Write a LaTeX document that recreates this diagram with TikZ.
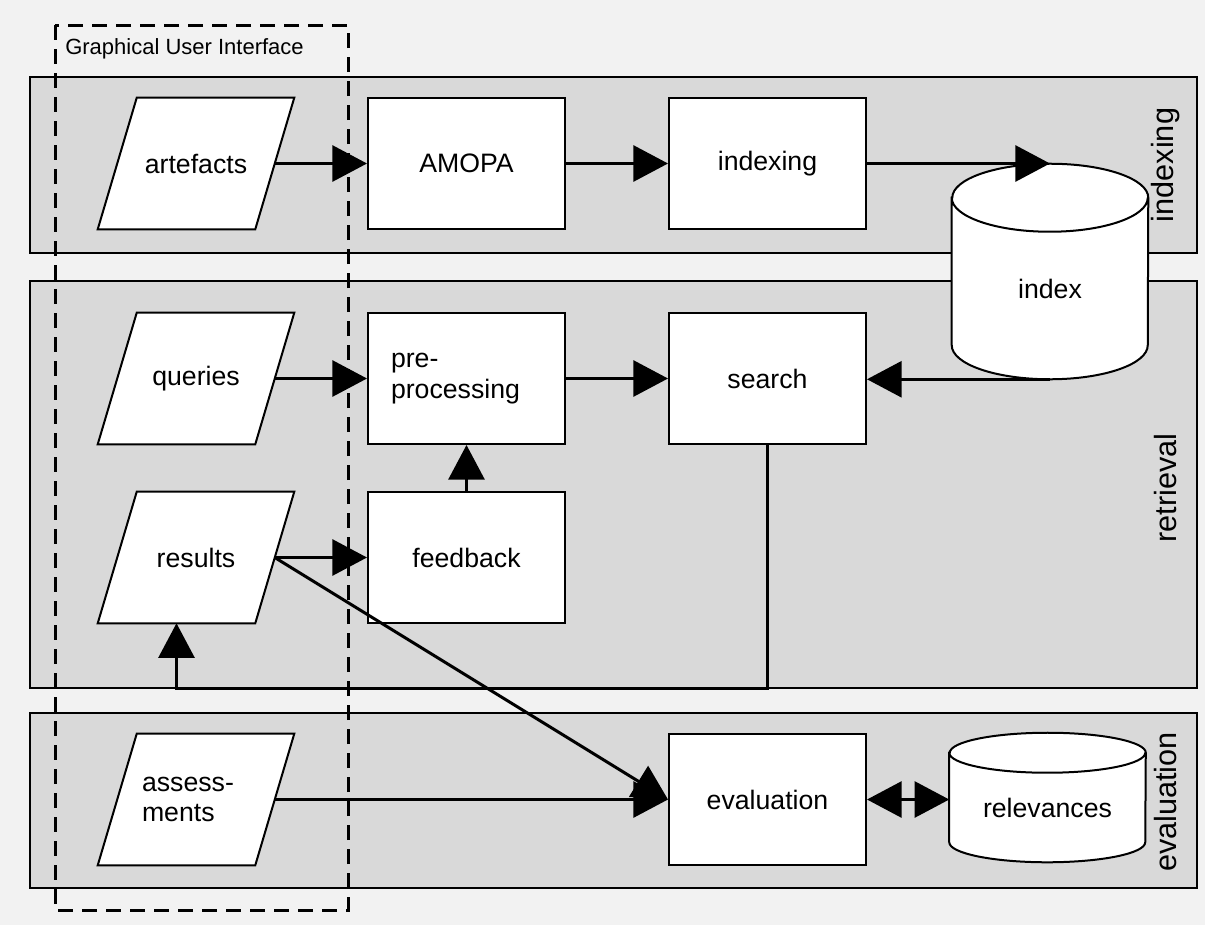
\documentclass[tikz,border=0pt]{standalone}
\usepackage{fontspec}
\setmainfont{Liberation Sans}
\usetikzlibrary{arrows.meta}
\definecolor{backgrey}{RGB}{242,242,242}
\definecolor{bandgrey}{RGB}{217,217,217}
\pgfdeclarelayer{background}
\pgfsetlayers{background,main}
\tikzset{
  process/.style   = {shape=rectangle, draw, fill=white, line width=1.5pt,
                      minimum width=147.75pt, minimum height=98.25pt,
                      align=left, font=\fontsize{20}{23}\selectfont},
  data/.style      = {shape=rectangle, inner sep=0pt, minimum width=117.75pt,
                      minimum height=98.25pt, align=left,
                      font=\fontsize{20}{23}\selectfont},
  store/.style     = {shape=rectangle, inner sep=0pt, minimum width=147pt,
                      font=\fontsize{20}{23}\selectfont},
  outline/.style   = {draw, fill=white, line width=1.5pt},
  band/.style      = {draw, fill=bandgrey, line width=1.5pt},
  bandlabel/.style = {rotate=90, inner sep=0pt, font=\fontsize{23}{26}\selectfont},
  gui/.style       = {draw, line width=2.25pt, dash pattern=on 11pt off 7pt},
  flow/.style      = {-{Triangle[length=26pt,width=27pt]}, line width=2.25pt},
  twoway/.style    = {{Triangle[length=26pt,width=27pt]}-{Triangle[length=26pt,width=27pt]},
                      line width=2.25pt},
}
% parallelogram round a data node
\newcommand\datashape[1]{%
  \path [outline] ([xshift=-14.625pt]#1.south west) -- ([xshift=14.625pt]#1.north west)
    -- ([xshift=14.625pt]#1.north east) -- ([xshift=-14.625pt]#1.south east) -- cycle;}
% cylinder round a store node, #2 = radius of the caps
\newcommand\storeshape[2]{%
  \path [outline] (#1.north west) -- ([yshift=#2]#1.south west)
    arc [start angle=180, end angle=360, x radius=73.5pt, y radius=#2]
    -- (#1.north east)
    arc [start angle=0, end angle=180, x radius=73.5pt, y radius=#2] -- cycle
    (#1.north west) arc [start angle=180, end angle=360, x radius=73.5pt, y radius=#2];}

\begin{document}
\begin{tikzpicture}
  [
    x = 0.75pt,
    y = -0.75pt
  ]
  \useasboundingbox (0,0) rectangle (1205,925);
  \begin{pgfonlayer}{background}
    \fill [backgrey] (0,0) rectangle (1205,925);
    \draw [band] (30,77) rectangle (1197,253);
    \draw [band] (30,281) rectangle (1197,688);
    \draw [band] (30,713) rectangle (1197,888);
    \draw [gui] (55,25) rectangle (348,910);
  \end{pgfonlayer}
  \node [anchor=west, inner sep=0pt, font=\fontsize{16.5}{19}\selectfont]
    (guilabel) at (65,49) {Graphical User Interface};

  \node [data]    (artefacts)   at (196,163.5)   {artefacts};
  \node [process] (amopa)       at (466.5,163.5) {AMOPA};
  \node [process] (indexing)    at (767.5,163.5) {indexing};
  \node [store, minimum height=135.75pt] (index) at (1050,288.5) {index};

  \node [data]    (queries)     at (196,378.5)   {queries};
  \node [process, inner xsep=17.25pt, text width=113.25pt]
    (preproc) at (466.5,378.5) {pre-\\processing};
  \node [process] (search)      at (767.5,378.5) {search};
  \node [data]    (results)     at (196,557.5)   {results};
  \node [process] (feedback)    at (466.5,557.5) {feedback};

  \node [data, inner xsep=18.4pt, text width=80.95pt]
    (assessments) at (196,799.5) {assess-\\ments};
  \node [process] (evaluation)  at (767.5,799.5) {evaluation};
  \node [store, minimum height=81.75pt] (relevances) at (1047.5,807.5) {relevances};

  \begin{pgfonlayer}{background}
    \datashape{artefacts}
    \datashape{queries}
    \datashape{results}
    \datashape{assessments}
    \storeshape{index}{25.5pt}
    \storeshape{relevances}{15pt}
  \end{pgfonlayer}

  \draw [flow] (artefacts) -- (amopa);
  \draw [flow] (amopa) -- (indexing);
  \draw [flow] (indexing.east) -- (indexing.east -| index.north);
  \draw [flow] (index.south) -- (index.south -| search.east);
  \draw [flow] (queries) -- (preproc);
  \draw [flow] (preproc) -- (search);
  \draw [flow] (feedback) -- (preproc);
  \draw [flow] (results) -- (feedback);
  \coordinate (back) at (176.5,688);
  \draw [flow] (search.south) |- (back) -- ([xshift=-14.625pt]results.south);
  \draw [flow] (results.east) -- (evaluation.west);
  \draw [flow] (assessments) -- (evaluation);
  \draw [twoway] (evaluation.east) -- (evaluation.east -| relevances.west);

  \node [bandlabel] (indexlabel) at (1166,165) {indexing};
  \node [bandlabel] (retrlabel)  at (1166,488) {retrieval};
  \node [bandlabel] (evallabel)  at (1166,802) {evaluation};
\end{tikzpicture}
\end{document}
